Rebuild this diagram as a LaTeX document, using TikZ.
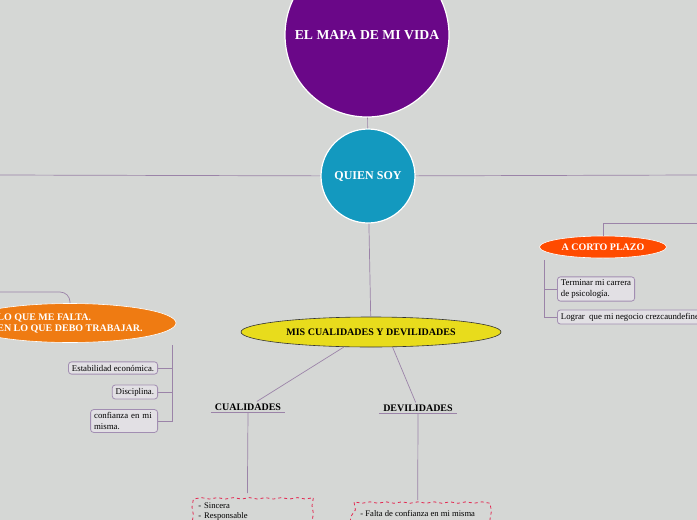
\documentclass[tikz,border=0pt]{standalone}
\usepackage{fontspec}
\setmainfont{Liberation Serif}
\usetikzlibrary{shapes.geometric, positioning, calc, decorations.pathmorphing}
\usepackage{xcolor}
\definecolor{bgGray}{HTML}{D5D7D5}
\definecolor{mapaPurple}{HTML}{6A0788}
\definecolor{quienBlue}{HTML}{1399BF}
\definecolor{misYellow}{HTML}{E8DC1C}
\definecolor{faltaOrange}{HTML}{EF7B12}
\definecolor{cortoRed}{HTML}{FF4B00}
\definecolor{linkPurple}{HTML}{9B83A8}
\definecolor{leafFill}{HTML}{E2E0E4}
\definecolor{leafBorder}{HTML}{A28EB2}
\definecolor{dashRed}{HTML}{E3254F}
\tikzset{
    % Shapes
    bigCircle/.style={circle, draw=white, line width=1.2pt, text=white, align=center,
                      inner sep=0pt, font=\fontsize{12}{14}\selectfont\bfseries},
    topic/.style={ellipse, draw=white, line width=0.6pt, text=white, align=center,
                  inner sep=0pt, font=\fontsize{10}{11}\selectfont\bfseries},
    branch/.style={rectangle, inner sep=2pt, font=\fontsize{10}{12}\selectfont\bfseries},
    leaf/.style={rectangle, rounded corners=3pt, draw=leafBorder, line width=0.8pt,
                 fill=leafFill, align=left, inner xsep=3.5pt, inner ysep=3pt,
                 font=\fontsize{8.8}{10.5}\selectfont},
    dashBox/.style={rectangle, draw=dashRed, dashed, line width=0.8pt, align=left,
                    inner xsep=10pt, inner ysep=9pt, font=\fontsize{8.6}{10}\selectfont,
                    decorate, decoration={snake, amplitude=0.7pt, segment length=16pt}},
    % Flow
    link/.style={draw=linkPurple, line width=0.7pt}
}

\begin{document}
\begin{tikzpicture}[x=1pt, y=-1pt]

\path[use as bounding box, fill=bgGray] (0,0) rectangle (697,520);
\clip (0,0) rectangle (697,520);

% centre
\node[bigCircle, fill=mapaPurple, minimum size=164pt,
      font=\fontsize{13.7}{15}\selectfont\bfseries] (mapa) at (367,35) {EL MAPA DE MI VIDA};
\node[bigCircle, fill=quienBlue, minimum size=94pt] (quien) at (368,176) {QUIEN SOY};
\coordinate (farLeft) at (0,175);
\coordinate (farRight) at (697,175);

\draw[link] (mapa) -- (quien);
\draw[link] (quien) -- (farLeft);
\draw[link] (quien) -- (farRight);

% cualidades y devilidades
\node[ellipse, draw=black!80, line width=0.6pt, fill=misYellow, minimum width=260pt,
      minimum height=30pt, inner sep=0pt, font=\fontsize{10}{12}\selectfont\bfseries]
      (mis) at (371,332) {MIS CUALIDADES Y DEVILIDADES};
\node[branch, minimum width=74pt] (cual) at (248,407) {CUALIDADES};
\node[branch, minimum width=78pt] (devi) at (418,408) {DEVILIDADES};
\node[dashBox, anchor=north west, text width=98pt] (cualBox) at (188,493) {- Sincera\\- Responsable};
\node[dashBox, anchor=north west, inner ysep=10pt] (deviBox) at (350,500) {- Falta de confianza en mi misma};

\draw[link] (quien) -- (mis);
\draw[link] (mis.209) -- (cual);
\draw[link] (mis.325) -- (devi);
\draw[link] (cual.south west) -- (cual.south east);
\draw[link] (devi.south west) -- (devi.south east);
\draw[link] (cual.south) -- (cualBox.north);
\draw[link] (devi.south) -- (deviBox.north);

% lo que me falta
\node[topic, fill=faltaOrange, minimum width=212pt, minimum height=39pt, align=left]
      (falta) at (70,323) {LO QUE ME FALTA.\\EN LO QUE DEBO TRABAJAR.};
\coordinate (leftEdge) at (0,292);
\coordinate (faltaHub) at (172,345);
\node[leaf, anchor=east] (estab) at (158,368) {Estabilidad económica.};
\node[leaf, anchor=east] (disc) at (158,392) {Disciplina.};
\node[leaf, anchor=east, text width=60pt] (conf) at (158,421) {confianza en mi\\misma.};

\draw[link, rounded corners=10pt] (leftEdge) -| (falta.north);
\draw[link] (faltaHub) |- (estab.east);
\draw[link] (faltaHub) |- (disc.east);
\draw[link] (faltaHub) |- (conf.east);

% a corto plazo
\node[topic, fill=cortoRed, minimum width=127pt, minimum height=22pt] (corto) at (603,247) {A CORTO PLAZO};
\coordinate (rightEdge) at (697,223);
\coordinate (cortoHub) at (544,260);
\node[leaf, anchor=west] (carrera) at (557,289) {Terminar mi carrera\\de psicología.};
\node[leaf, anchor=west] (negocio) at (557,317) {Lograr\ \ que mi negocio crezcaundefined};

\draw[link] (rightEdge) -| (corto.north);
\draw[link] (cortoHub) |- (carrera.west);
\draw[link] (cortoHub) |- (negocio.west);

\end{tikzpicture}
\end{document}
